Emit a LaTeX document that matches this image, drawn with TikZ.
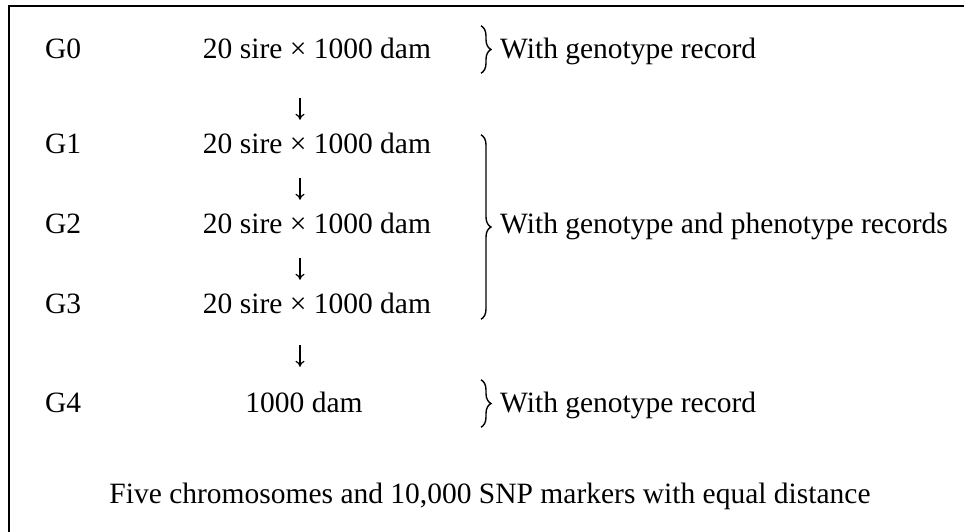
\documentclass[tikz,border=0pt]{standalone}
\usepackage{fontspec}
\setmainfont{Liberation Serif}
\usepackage{tikz}
\usetikzlibrary{arrows.meta,decorations.pathreplacing,positioning}
\definecolor{Ink}{HTML}{000000}

\begin{document}
\begin{tikzpicture}[x=1pt,y=-1pt,
    txt/.style={inner sep=0pt,font=\rmfamily\fontsize{29.5}{35}\selectfont,text=Ink},
    rowtxt/.style={txt,text height=20pt,text depth=0pt},
    flow/.style={draw=Ink,line width=1.2pt,-{To[length=6pt,width=9pt]},shorten >=13pt},
    curly/.style={draw=Ink,line width=1.4pt,decorate,decoration={brace,amplitude=10pt}}
  ]
  \useasboundingbox (0,0) rectangle (964,531);
  \clip (0,0) rectangle (964,531);
  \draw[Ink,line width=2.5pt] (9,6) rectangle (990,560);

  \node[rowtxt,anchor=base west] (g0) at (45,58) {G0};
  \node[rowtxt,anchor=base west] (g1) at (45,153) {G1};
  \node[rowtxt,anchor=base west] (g2) at (45,233) {G2};
  \node[rowtxt,anchor=base west] (g3) at (45,313) {G3};
  \node[rowtxt,anchor=base west] (g4) at (45,412) {G4};

  \node[rowtxt,anchor=base] (r0) at (317,58) {20 sire × 1000 dam};
  \node[rowtxt,anchor=base] (r1) at (317,153) {20 sire × 1000 dam};
  \node[rowtxt,anchor=base] (r2) at (317,233) {20 sire × 1000 dam};
  \node[rowtxt,anchor=base] (r3) at (317,313) {20 sire × 1000 dam};
  \node[rowtxt,anchor=base] (r4) at (304,412) {1000 dam};

  \draw[flow,shorten <=40pt] ([xshift=-17pt]r0.south) -- ([xshift=-17pt]r1.north);
  \draw[flow,shorten <=25pt] ([xshift=-17pt]r1.south) -- ([xshift=-17pt]r2.north);
  \draw[flow,shorten <=25pt] ([xshift=-17pt]r2.south) -- ([xshift=-17pt]r3.north);
  \draw[flow,shorten <=32pt,shorten >=25pt] ([xshift=-17pt]r3.south) -- ([xshift=-17pt]r3.south |- r4.north);

  \coordinate (bx) at (481,0);
  \draw[curly] ([yshift=12pt]r0.north -| bx) -- ([yshift=-15pt]r0.south -| bx);
  \draw[curly] ([yshift=-2pt]r1.north -| bx) -- ([yshift=-6pt]r3.south -| bx);
  \draw[curly] ([yshift=12pt]r4.north -| bx) -- ([yshift=-15pt]r4.south -| bx);

  \node[txt,anchor=base west] (lab0) at (500,58) {With genotype record};
  \node[txt,anchor=base west] (lab1) at (500,233) {With genotype and phenotype records};
  \node[txt,anchor=base west] (lab4) at (500,412) {With genotype record};

  \node[txt,anchor=base] (note) at (490,503) {Five chromosomes and 10,000 SNP markers with equal distance};
\end{tikzpicture}
\end{document}
